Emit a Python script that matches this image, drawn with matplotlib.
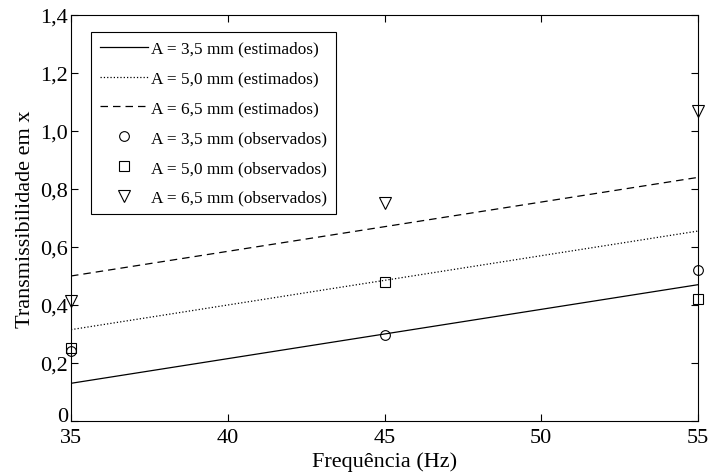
import matplotlib
matplotlib.use("Agg")
import matplotlib.pyplot as plt
from matplotlib.ticker import FuncFormatter

## Data
freq = [35, 45, 55]

# estimated (straight lines)
est_35 = [0.13, 0.30, 0.47]
est_50 = [0.315, 0.485, 0.655]
est_65 = [0.50, 0.67, 0.84]

# observed (markers)
obs_35 = [0.24, 0.295, 0.52]
obs_50 = [0.25, 0.48, 0.42]
obs_65 = [0.415, 0.75, 1.07]

labels_est = ["A = 3,5 mm (estimados)", "A = 5,0 mm (estimados)", "A = 6,5 mm (estimados)"]
labels_obs = ["A = 3,5 mm (observados)", "A = 5,0 mm (observados)", "A = 6,5 mm (observados)"]

plt.rcParams['font.family'] = ['Liberation Serif', 'DejaVu Serif']

fig = plt.figure(figsize=(7.08, 4.77), dpi=100)
ax = fig.add_axes([0.1003, 0.1153, 0.8856, 0.8512])

ax.plot(freq, est_35, '-', color='k', lw=0.9, label=labels_est[0])
ax.plot(freq, est_50, ':', color='k', lw=0.9, label=labels_est[1])
ax.plot(freq, est_65, '--', color='k', lw=0.9, dashes=(6, 4), label=labels_est[2])
ax.plot(freq, obs_35, 'o', mfc='none', mec='k', ms=7, mew=0.8, label=labels_obs[0], clip_on=False)
ax.plot(freq, obs_50, 's', mfc='none', mec='k', ms=7, mew=0.8, label=labels_obs[1], clip_on=False)
ax.plot(freq, obs_65, 'v', mfc='none', mec='k', ms=8, mew=0.8, label=labels_obs[2], clip_on=False)

ax.set_xlim(35, 55)
ax.set_ylim(0, 1.4)
ax.set_xticks([35, 40, 45, 50, 55])
ax.set_yticks([0, 0.2, 0.4, 0.6, 0.8, 1.0, 1.2, 1.4])

# decimal comma, plain "0" at origin
def commaFmt(v, pos):
    if abs(v) < 1e-9:
        return "0"
    return ("%.1f" % v).replace(".", ",")

ax.yaxis.set_major_formatter(FuncFormatter(commaFmt))
ax.tick_params(direction='in', top=True, right=True, length=5, width=0.8, labelsize=16, pad=2)
ax.tick_params(axis='x', pad=5)
for sp in ax.spines.values():
    sp.set_linewidth(0.8)

# raise the "0" a little so it sits above the "35"
ax.get_yticklabels()[0].set_verticalalignment('baseline')

ax.set_xlabel("Frequência (Hz)", fontsize=16, labelpad=3)
ax.set_ylabel("Transmissibilidade em x", fontsize=16, labelpad=4)

leg = ax.legend(loc='upper left', bbox_to_anchor=(0.032, 0.958), fontsize=12.4,
                frameon=True, fancybox=False, edgecolor='k', framealpha=1,
                handlelength=2.8, handletextpad=0.2, labelspacing=0.8,
                borderpad=0.5, borderaxespad=0, numpoints=1)
leg.get_frame().set_linewidth(0.8)

fig.savefig("out.png", dpi=100)
